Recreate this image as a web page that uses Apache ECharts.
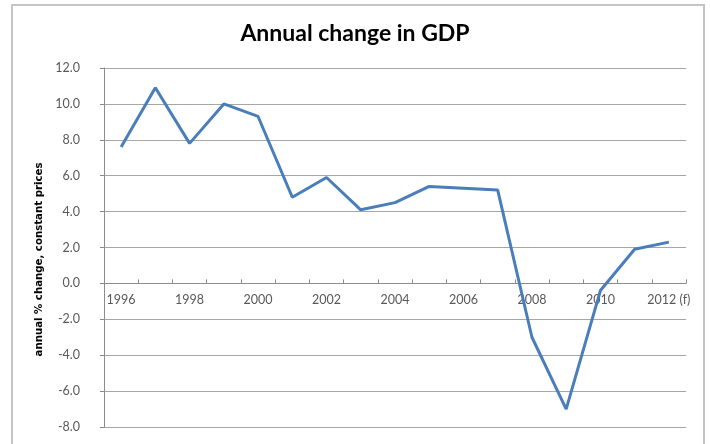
<!DOCTYPE html>
<html>
<head>
<meta charset="utf-8">
<script src="https://cdn.jsdelivr.net/npm/echarts@6/dist/echarts.min.js"></script>
<style>
  html, body { margin: 0; padding: 0; background: #ffffff; }
  #chart { width: 710px; height: 444px; }
</style>
</head>
<body>
<div id="chart"></div>
<script>
// Years on the category axis; the last one is a forecast
const years = ['1996','1997','1998','1999','2000','2001','2002','2003','2004',
               '2005','2006','2007','2008','2009','2010','2011','2012'];
// Tick labels shown under the axis (every other year)
const yearLabels = ['1996','','1998','','2000','','2002','','2004',
                    '','2006','','2008','','2010','','2012 (f)'];
// Annual % change in GDP, constant prices
const gdpChange = [7.6, 10.9, 7.8, 10.0, 9.3, 4.8, 5.9, 4.1, 4.5,
                   5.4, 5.3, 5.2, -3.0, -7.0, -0.4, 1.9, 2.3];
// Value-axis range
const yMin = -8, yMax = 12, yStep = 2;

const gridTop = 68, gridBottom = 17, chartHeight = 444;
// Category axis sits on the zero line: shift it up from the bottom edge of the grid
const plotHeight = chartHeight - gridTop - gridBottom;
const zeroOffset = plotHeight * (0 - yMin) / (yMax - yMin);

const chart = echarts.init(document.getElementById('chart'), null, { renderer: 'canvas' });
const labelFont = 'Lato, "Open Sans", sans-serif';

chart.setOption({
  backgroundColor: '#ffffff',
  animation: false,
  title: {
    text: 'Annual change in GDP',
    left: 'center',
    top: 17,
    textStyle: { fontFamily: labelFont, fontWeight: 'bold', fontSize: 23, color: '#000000' }
  },
  graphic: [{
    type: 'rect',
    shape: { x: 12, y: 5, width: 692, height: 445 },
    style: { fill: 'none', stroke: '#c4c4c4', lineWidth: 2 },
    silent: true, z: -1
  }],
  grid: { left: 104, right: 24, top: gridTop, bottom: gridBottom },
  xAxis: {
    type: 'category',
    data: years,
    boundaryGap: true,
    position: 'bottom',
    offset: -zeroOffset,
    axisLine: { onZero: false, lineStyle: { color: '#8c8c8c', width: 1 } },
    axisTick: { show: true, inside: true, length: 4, lineStyle: { color: '#8c8c8c' } },
    axisLabel: {
      interval: 0,
      margin: 10,
      fontFamily: labelFont, fontSize: 12.5, color: '#595959',
      formatter: (v, i) => yearLabels[i]
    },
    splitLine: { show: false }
  },
  yAxis: {
    type: 'value',
    min: yMin, max: yMax, interval: yStep,
    name: 'annual % change, constant prices',
    nameLocation: 'middle',
    nameGap: 60,
    nameTextStyle: { fontFamily: '"DejaVu Sans", sans-serif', fontWeight: 'bold', fontSize: 10.2,
                     color: '#000000', padding: [0, 0, 0, -24] },
    axisLine: { show: true, lineStyle: { color: '#8c8c8c', width: 1 } },
    axisTick: { show: true, length: 4, lineStyle: { color: '#8c8c8c' } },
    axisLabel: {
      margin: 24,
      fontFamily: labelFont, fontSize: 12.5, color: '#595959',
      formatter: v => v.toFixed(1)
    },
    splitLine: { show: true, lineStyle: { color: '#a6a6a6', width: 1 } }
  },
  series: [{
    type: 'line',
    data: gdpChange,
    showSymbol: false,
    symbol: 'none',
    smooth: false,
    lineStyle: { color: '#4a7ebb', width: 3 },
    z: 3
  }]
});
</script>
</body>
</html>
